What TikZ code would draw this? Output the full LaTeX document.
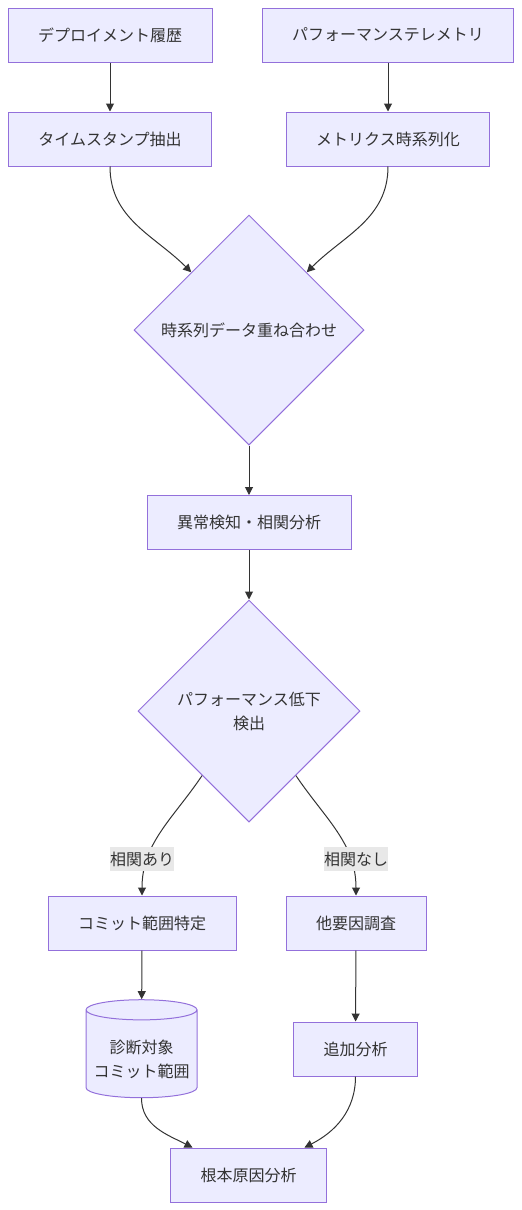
\documentclass[tikz,border=0pt]{standalone}
\usepackage{fontspec}
\setmainfont{Noto Sans CJK JP}
\usetikzlibrary{shapes.geometric,arrows.meta}
\definecolor{boxfill}{HTML}{ECECFF}
\definecolor{boxline}{HTML}{9370DB}
\definecolor{ink}{HTML}{333333}
\definecolor{lblfill}{HTML}{E8E8E8}

\begin{document}
\begin{tikzpicture}[x=1pt, y=1pt, semithick, font=\fontsize{16}{24}\selectfont, text=ink,
  box/.style={draw=boxline, fill=boxfill, line width=1pt, inner xsep=30pt, inner ysep=0pt, minimum height=54pt},
  choice/.style={diamond, draw=boxline, fill=boxfill, line width=1pt, inner sep=0pt, align=center},
  store/.style={cylinder, shape border rotate=90, aspect=0.21, draw=boxline, fill=boxfill, line width=1pt, inner sep=0pt, minimum width=111pt, minimum height=98pt, align=center},
  flow/.style={draw=ink, line width=1pt, -{Triangle[length=8pt, width=8pt]}},
  tag/.style={fill=lblfill, inner sep=0pt, minimum height=24pt}]
  \useasboundingbox (0,0) rectangle (522,-1210);

  \node[box] (A) at (110,-35) {デプロイメント履歴};
  \node[box] (B) at (388,-35) {パフォーマンステレメトリ};
  \node[box] (C) at (110,-139) {タイムスタンプ抽出};
  \node[box] (D) at (388,-139) {メトリクス時系列化};
  \node[choice, minimum width=230pt, minimum height=230pt] (E) at (249,-330) {時系列データ重ね合わせ};
  \node[box] (F) at (249,-522.5) {異常検知・相関分析};
  \node[choice, minimum width=222pt, minimum height=222pt] (G) at (249,-711) {パフォーマンス低下\\検出};
  \node[box] (H) at (142,-923) {コミット範囲特定};
  \node[box] (I) at (356,-923) {他要因調査};
  \node[store] (J) at (141.5,-1054) {\rule{0pt}{24pt}診断対象\\コミット範囲};
  \node[box] (K) at (355.5,-1049) {追加分析};
  \node[box] (L) at (248.5,-1175) {根本原因分析};

  \draw[flow] (A) -- (C);
  \draw[flow] (B) -- (D);
  \draw[flow] (C.south) to[out=-90, in=135] (E.135);
  \draw[flow] (D.south) to[out=-90, in=45] (E.45);
  \draw[flow] (E) -- (F);
  \draw[flow] (F) -- (G);
  \draw[flow] (G.234) to[out=-124, in=90] (H.north);
  \draw[flow] (G.-54) to[out=-56, in=90] (I.north);
  \draw[flow] (H) -- (J);
  \draw[flow] (I) -- (K);
  \draw[flow] (J.south) to[out=-90, in=153] ([xshift=-56pt]L.north);
  \draw[flow] (K.south) to[out=-90, in=27] ([xshift=56pt]L.north);

  \node[tag] (Y) at (142,-859) {相関あり};
  \node[tag] (N) at (356,-859) {相関なし};
\end{tikzpicture}
\end{document}
